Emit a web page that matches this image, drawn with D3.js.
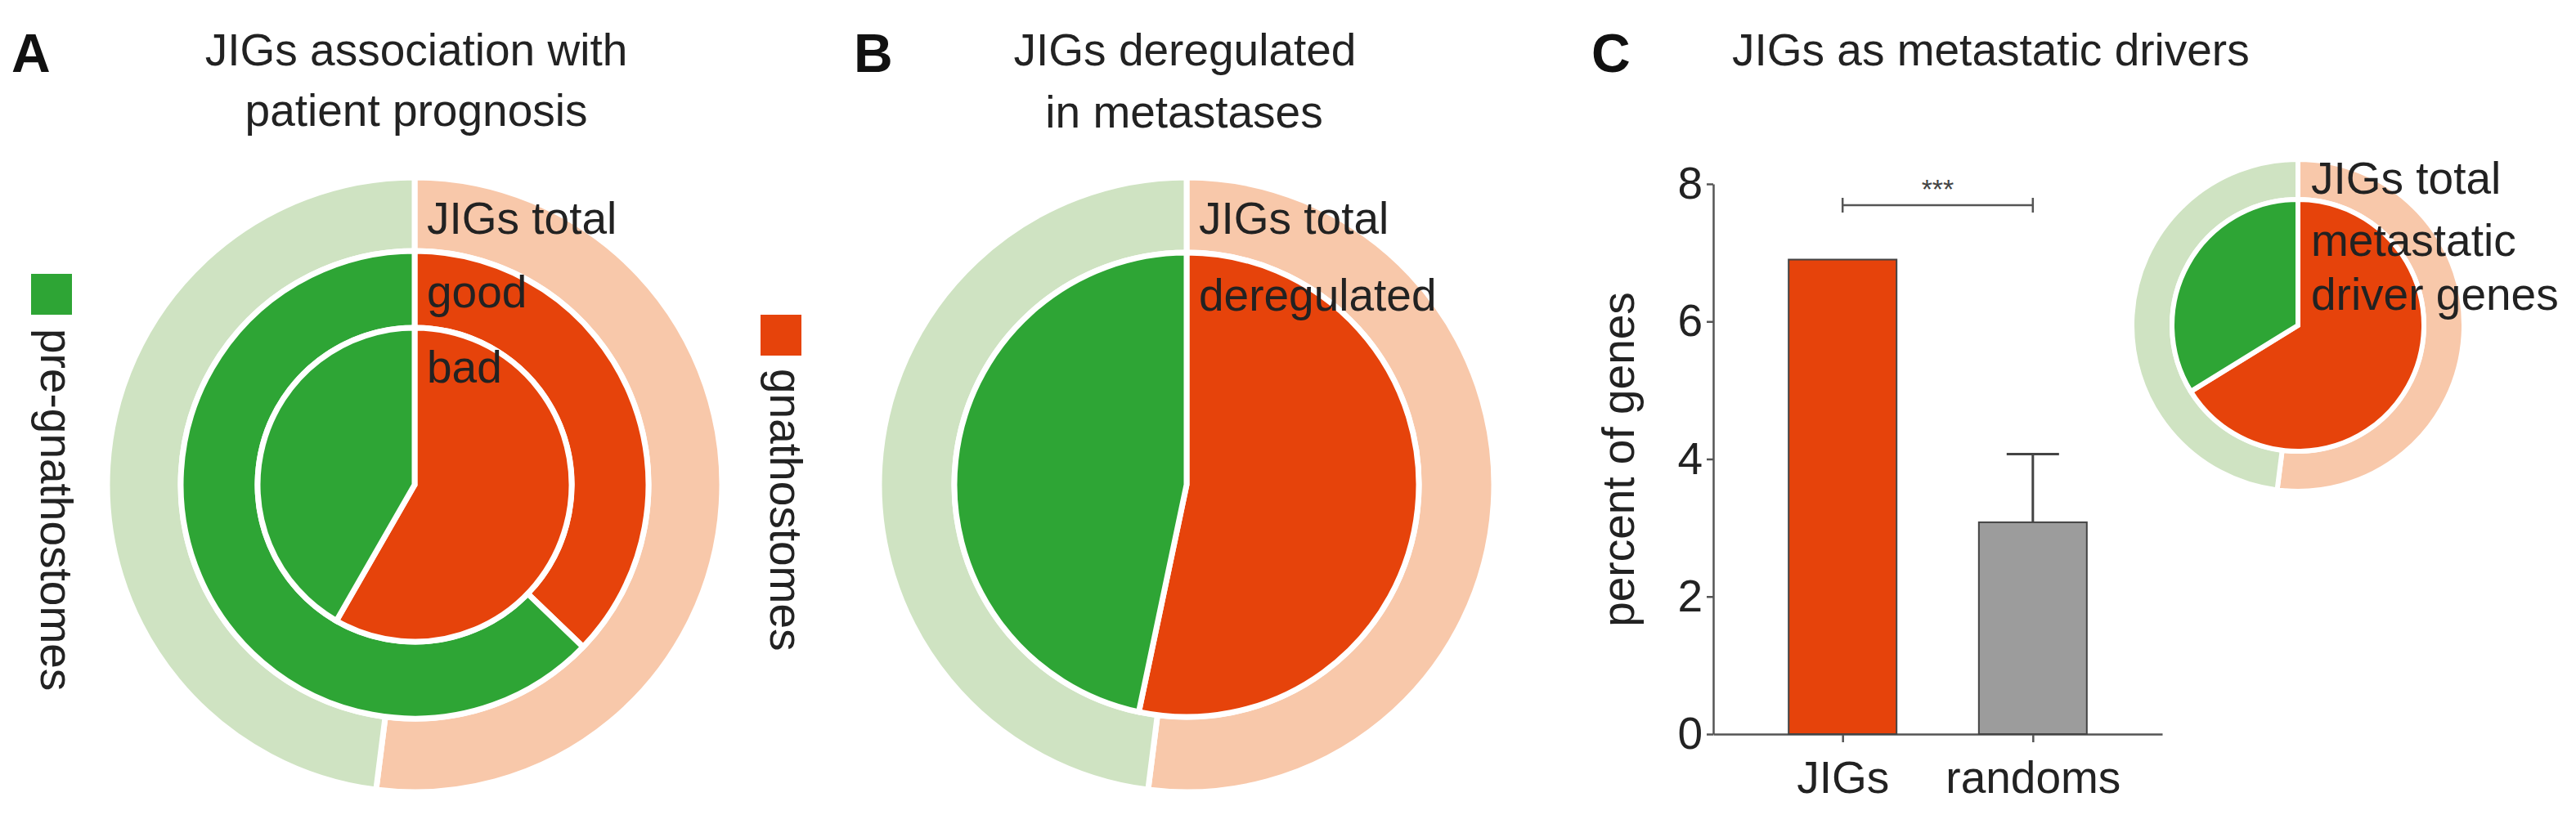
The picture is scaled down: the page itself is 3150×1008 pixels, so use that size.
<!DOCTYPE html>
<html lang="en">
<head>
	<meta charset="UTF-8">
	<title>JIGs in gnathostomes and metastasis</title>
	<script src="https://d3js.org/d3.v7.min.js"></script>
	<style>
		body { margin: 0; background: #fff; }
		text { font-family: "Liberation Sans", Arial, sans-serif; fill: #222; }
	</style>
</head>
<body>

	<svg width="3150" height="1008"></svg>

	<script>

		// groups shown in every ring: [gnathostomes, pre-gnathostomes], in percent
		var groups = ["gnathostomes", "pre-gnathostomes"];
		var jigsTotal = [52.0, 48.0];
		var goodPrognosis = [37.2, 62.8];
		var badPrognosis = [58.3, 41.7];
		var deregulated = [53.3, 46.7];
		var metastaticDrivers = [66.2, 33.8];

		// bar chart of panel C
		var barCategories = ["JIGs", "randoms"];
		var barValues = [6.9, 3.08];
		var barErrors = [0, 0.99];
		var yTicks = [0, 2, 4, 6, 8];

		var strong = ["#e6430b", "#2ea535"];
		var light = ["#f8c8aa", "#cfe3c2"];

		var svg = d3.select("svg")
			.attr("width", 3150)
			.attr("height", 1008);

		svg.append("rect")
			.attr("width", 3150)
			.attr("height", 1008)
			.attr("fill", "#fff");

		var pie = d3.pie().sort(null);

		function drawRing(g, values, rIn, rOut, colors, sw) {
			var arc = d3.arc().innerRadius(rIn).outerRadius(rOut);
			g.selectAll(null)
				.data(pie(values))
				.enter()
				.append("path")
				.attr("d", arc)
				.attr("fill", function(d, i) { return colors[i]; })
				.attr("stroke", "#fff")
				.attr("stroke-width", sw);
		}

		function addText(x, y, str, size, anchor) {
			return svg.append("text")
				.attr("x", x)
				.attr("y", y)
				.attr("text-anchor", anchor || "start")
				.style("font-size", (size || 55) + "px")
				.text(str);
		}

		// panel letters
		[["A", 14], ["B", 1044], ["C", 1946]].forEach(function(p) {
			addText(p[1], 88, p[0], 66).style("font-weight", "bold").style("fill", "#111");
		});

		// ---- Panel A ----
		addText(509, 80, "JIGs association with", 55, "middle");
		addText(509, 154, "patient prognosis", 55, "middle");

		var gA = svg.append("g").attr("transform", "translate(507,593)");
		drawRing(gA, jigsTotal, 286, 376, light, 7);
		drawRing(gA, goodPrognosis, 192, 286, strong, 7);
		drawRing(gA, badPrognosis, 0, 192, strong, 7);

		addText(522, 286, "JIGs total");
		addText(522, 376, "good");
		addText(522, 468, "bad");

		// legend
		svg.append("rect").attr("x", 38).attr("y", 335).attr("width", 50).attr("height", 50).attr("fill", strong[1]);
		svg.append("text")
			.attr("transform", "translate(50,402) rotate(90)")
			.style("font-size", "55px")
			.text(groups[1]);

		svg.append("rect").attr("x", 930).attr("y", 385).attr("width", 50).attr("height", 50).attr("fill", strong[0]);
		svg.append("text")
			.attr("transform", "translate(942,451) rotate(90)")
			.style("font-size", "55px")
			.text(groups[0]);

		// ---- Panel B ----
		addText(1449, 80, "JIGs deregulated", 55, "middle");
		addText(1448, 156, "in metastases", 55, "middle");

		var gB = svg.append("g").attr("transform", "translate(1451,593)");
		drawRing(gB, jigsTotal, 284, 376, light, 7);
		drawRing(gB, deregulated, 0, 284, strong, 7);

		addText(1466, 286, "JIGs total");
		addText(1466, 380, "deregulated");

		// ---- Panel C ----
		addText(2118, 80, "JIGs as metastatic drivers", 55);

		var y = d3.scaleLinear()
			.domain([0, 8])
			.range([898, 225]);

		var x = d3.scalePoint()
			.domain(barCategories)
			.range([2095, 2644])
			.padding(0.68);

		var barW = 132;

		svg.append("g")
			.attr("class", "axis")
			.attr("transform", "translate(2095,0)")
			.call(d3.axisLeft(y).tickValues(yTicks).tickSize(8).tickSizeOuter(0).tickPadding(5));

		svg.append("g")
			.attr("class", "axis")
			.attr("transform", "translate(0,898)")
			.call(d3.axisBottom(x).tickSize(10).tickSizeOuter(0).tickPadding(23));

		svg.selectAll(".axis path, .axis line")
			.attr("stroke", "#555")
			.attr("stroke-width", 2.5);
		svg.selectAll(".axis text")
			.style("font-size", "55px")
			.style("font-family", "'Liberation Sans', Arial, sans-serif")
			.attr("fill", "#222");

		svg.append("text")
			.attr("transform", "translate(1998,562) rotate(-90)")
			.attr("text-anchor", "middle")
			.style("font-size", "55px")
			.text("percent of genes");

		// error bars first so the bar outline sits on top
		svg.selectAll(".err")
			.data(barCategories)
			.enter()
			.append("path")
			.attr("class", "err")
			.attr("d", function(d, i) {
				if (!barErrors[i]) return null;
				var cx = x(d), top = y(barValues[i] + barErrors[i]);
				return "M" + cx + "," + y(barValues[i]) + "V" + top +
					"M" + (cx - 32) + "," + top + "H" + (cx + 32);
			})
			.attr("stroke", "#444")
			.attr("stroke-width", 3)
			.attr("fill", "none");

		svg.selectAll(".bar")
			.data(barCategories)
			.enter()
			.append("rect")
			.attr("class", "bar")
			.attr("x", function(d) { return x(d) - barW / 2; })
			.attr("y", function(d, i) { return y(barValues[i]); })
			.attr("width", barW)
			.attr("height", function(d, i) { return y(0) - y(barValues[i]); })
			.attr("fill", function(d, i) { return i == 0 ? strong[0] : "#9c9c9c"; })
			.attr("stroke", "#444")
			.attr("stroke-width", 2);

		// significance bracket
		var bx1 = x(barCategories[0]), bx2 = x(barCategories[1]), by = 251;
		svg.append("path")
			.attr("d", "M" + bx1 + "," + by + "H" + bx2 +
				"M" + bx1 + "," + (by - 9) + "V" + (by + 9) +
				"M" + bx2 + "," + (by - 9) + "V" + (by + 9))
			.attr("stroke", "#555")
			.attr("stroke-width", 2.5)
			.attr("fill", "none");
		addText((bx1 + bx2) / 2, 243, "***", 34, "middle").style("fill", "#444");

		// small donut
		var gC = svg.append("g").attr("transform", "translate(2810,398)");
		drawRing(gC, jigsTotal, 154, 203, light, 6);
		drawRing(gC, metastaticDrivers, 0, 154, strong, 6);

		addText(2826, 237, "JIGs total");
		addText(2826, 313, "metastatic");
		addText(2826, 379, "driver genes");

	</script>

</body>
</html>
